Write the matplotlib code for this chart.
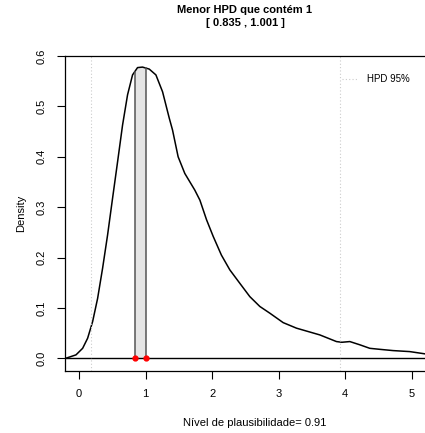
import numpy as np
import matplotlib
matplotlib.use("Agg")
from matplotlib import pyplot as plt

plt.rcParams['font.family'] = ['Liberation Sans', 'DejaVu Sans']

# densidade
dens_x = [-0.21, -0.195, -0.045, 0.055, 0.13, 0.205, 0.28, 0.355, 0.43, 0.505, 0.58,
          0.655, 0.73, 0.805, 0.88, 0.955, 1.056, 1.156, 1.256, 1.356, 1.406, 1.49,
          1.59, 1.74, 1.817, 1.917, 2.017, 2.14, 2.267, 2.417, 2.567, 2.718, 2.868,
          3.068, 3.268, 3.619, 3.869, 3.95, 4.07, 4.22, 4.37, 4.52, 4.72, 4.97, 5.2, 5.5]
dens_y = [0.0, 0.0004, 0.007, 0.020, 0.040, 0.073, 0.119, 0.179, 0.245, 0.318, 0.390,
          0.463, 0.523, 0.5625, 0.577, 0.578, 0.574, 0.5625, 0.529, 0.477, 0.453, 0.400,
          0.367, 0.334, 0.314, 0.275, 0.242, 0.205, 0.1756, 0.149, 0.1226, 0.103, 0.0897,
          0.071, 0.060, 0.0466, 0.0334, 0.032, 0.0334, 0.027, 0.020, 0.018, 0.0155, 0.0135,
          0.009, 0.007]
hpd_min = [0.835, 1.001]
hpd95 = [0.175, 3.92]
plaus = 0.91

xs = np.array(dens_x)
ys = np.array(dens_y)

fig = plt.figure(figsize=(4.25, 4.33), dpi=100)
ax = fig.add_axes([65/425, 62/433, 380/425, 315/433])

ax.plot(xs, ys, color='black', lw=1.1)
ax.axhline(0, color='black', lw=1)

# região HPD que contém 1
xx = np.linspace(hpd_min[0], hpd_min[1], 30)
yy = np.interp(xx, xs, ys)
ax.fill_between(xx, 0, yy, color='#e5e5e5', lw=0)
for v in hpd_min:
    ax.plot([v, v], [0, np.interp(v, xs, ys)], color='#555555', lw=1.1)
ax.plot(hpd_min, [0, 0], 'o', color='red', ms=3.5, zorder=5, clip_on=False)

for v in hpd95:
    ax.axvline(v, color='#cccccc', lw=0.8, ls=(0, (1, 2)))

ax.plot([], [], color='#cccccc', lw=0.8, ls=(0, (1, 2)), label='HPD 95%')
ax.legend(loc='upper right', bbox_to_anchor=(414/445, 0.97), frameon=False,
          fontsize=7, handlelength=1.6, handletextpad=1.0)

ax.set_xlim(-0.21, 5.5)
ax.set_ylim(-0.025, 0.6)
ax.set_xticks([0, 1, 2, 3, 4, 5])
ax.set_yticks([0.0, 0.1, 0.2, 0.3, 0.4, 0.5, 0.6])
ax.set_yticklabels(['0.0', '0.1', '0.2', '0.3', '0.4', '0.5', '0.6'],
                   rotation=90, va='center')
ax.tick_params(labelsize=8, length=6, width=0.8, direction='out', pad=7)
ax.spines['right'].set_visible(False)
for s in ['left', 'top', 'bottom']:
    ax.spines[s].set_linewidth(0.9)

ax.set_xlabel('Nível de plausibilidade= ' + str(plaus), fontsize=8, labelpad=14)
ax.set_ylabel('Density', fontsize=8, labelpad=8)

fig.text(245/425, 1 - 10/433, 'Menor HPD que contém 1', ha='center', va='center',
         fontsize=8, fontweight='bold')
fig.text(245/425, 1 - 23/433, '[ ' + str(hpd_min[0]) + ' , ' + str(hpd_min[1]) + ' ]',
         ha='center', va='center', fontsize=8, fontweight='bold')

plt.savefig("out.png", dpi=100)
